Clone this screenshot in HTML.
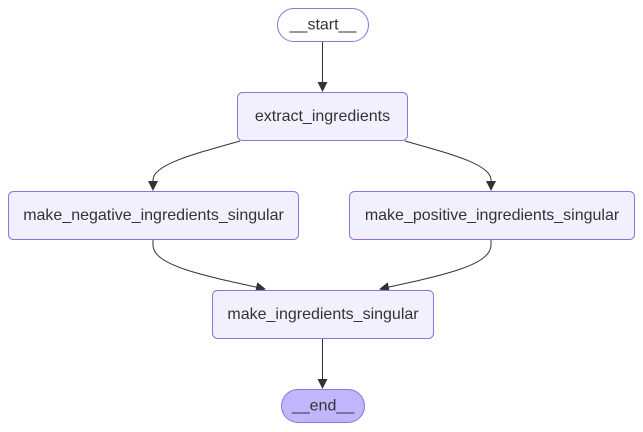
<!DOCTYPE html>
<html><head><meta charset="utf-8"><style>body{margin:0;background:#fff}svg{display:block}text{font-family:"Liberation Sans","DejaVu Sans",sans-serif;font-size:16px;fill:#333;text-anchor:middle;dominant-baseline:central}</style></head><body>
<svg width="643" height="432" viewBox="0 0 643 432">
<defs><marker id="a" markerWidth="10" markerHeight="10" refX="9" refY="5" orient="auto" markerUnits="userSpaceOnUse"><path d="M0,0L10,5L0,10z" fill="#333"/></marker></defs>
<g fill="none" stroke="#333" stroke-width="1">
<path d="M322.5,42V91" marker-end="url(#a)"/>
<path d="M240,141C190,155 153,165 153,180V190" marker-end="url(#a)"/>
<path d="M405,141C455,155 491,165 491,180V190" marker-end="url(#a)"/>
<path d="M153,240V245C153,265 200,275 265,289" marker-end="url(#a)"/>
<path d="M491,240V245C491,265 445,275 380,289" marker-end="url(#a)"/>
<path d="M322.5,339V388" marker-end="url(#a)"/>
</g>
<g stroke="#9370db" stroke-width="1">
<rect x="277.5" y="8.5" width="91" height="33" rx="16.5" fill="#fff"/>
<rect x="237.5" y="92.5" width="170" height="48" rx="5" fill="#f2f0ff"/>
<rect x="8.5" y="191.5" width="290" height="48" rx="5" fill="#f2f0ff"/>
<rect x="349.5" y="191.5" width="285" height="48" rx="5" fill="#f2f0ff"/>
<rect x="212.5" y="290.5" width="221" height="48" rx="5" fill="#f2f0ff"/>
<rect x="281.5" y="389.5" width="83" height="33" rx="16.5" fill="#bfb6fc"/>
</g>
<text x="323" y="25">__start__</text>
<text x="322.5" y="116.5">extract_ingredients</text>
<text x="153.5" y="215.5">make_negative_ingredients_singular</text>
<text x="492" y="215.5">make_positive_ingredients_singular</text>
<text x="323" y="314.5">make_ingredients_singular</text>
<text x="323" y="406">__end__</text>
</svg>
</body></html>
